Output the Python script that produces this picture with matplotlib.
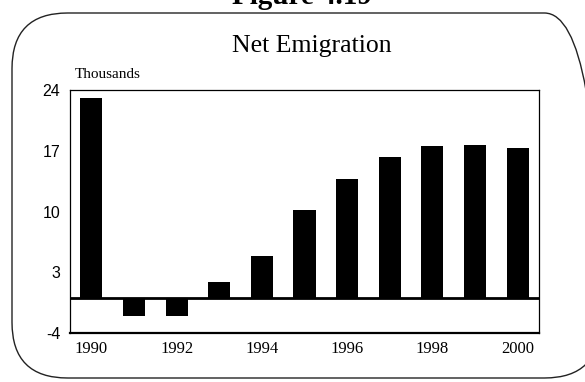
import matplotlib
matplotlib.use("Agg")
import matplotlib.pyplot as plt
from matplotlib.patches import FancyBboxPatch

plt.rcParams["axes.unicode_minus"] = False

# net emigration, thousands
years = [1990, 1991, 1992, 1993, 1994, 1995, 1996, 1997, 1998, 1999, 2000]
net_emig = [23.1, -2.0, -2.0, 1.9, 4.9, 10.2, 13.8, 16.3, 17.6, 17.7, 17.3]
yticks = [-4, 3, 10, 17, 24]
xticks = [1990, 1992, 1994, 1996, 1998, 2000]

serif = "Liberation Serif"
sans = "Liberation Sans"

fig = plt.figure(figsize=(5.85, 3.82), dpi=100)
W, H = 585.0, 382.0

# rounded frame round the panel
frame = FancyBboxPatch((12 / W, 4 / H), (600 - 12) / W, (369 - 4) / H,
                       boxstyle="round,pad=0,rounding_size=0.095",
                       transform=fig.transFigure, fill=False,
                       edgecolor="#222222", lw=1.0, mutation_aspect=W / H)
fig.patches.append(frame)

fig.text(302 / W, 1 - 4 / H, "Figure 4.19", family=serif, weight="bold",
         fontsize=21, ha="center", va="baseline")
fig.text(312 / W, 1 - 52 / H, "Net Emigration", family=serif,
         fontsize=18.5, ha="center", va="baseline")
fig.text(75 / W, 1 - 78 / H, "Thousands", family=serif,
         fontsize=11, ha="left", va="baseline")

ax = fig.add_axes([70 / W, 1 - 333 / H, (539 - 70) / W, (333 - 90) / H])
ax.bar(years, net_emig, width=0.52, color="black")
ax.axhline(0, color="black", lw=2)

ax.set_xlim(1989.5, 2000.5)
ax.set_ylim(-4, 24)
ax.set_yticks(yticks)
ax.set_xticks(xticks)
ax.tick_params(length=0)
ax.tick_params(axis="y", pad=7)
ax.tick_params(axis="x", pad=6)
for lab in ax.get_yticklabels():
    lab.set_family(sans)
    lab.set_fontsize(11.5)
for lab in ax.get_xticklabels():
    lab.set_family(serif)
    lab.set_fontsize(12)

for s in ax.spines.values():
    s.set_linewidth(0.9)
ax.spines["bottom"].set_linewidth(1.6)

fig.savefig("out.png", dpi=100)
